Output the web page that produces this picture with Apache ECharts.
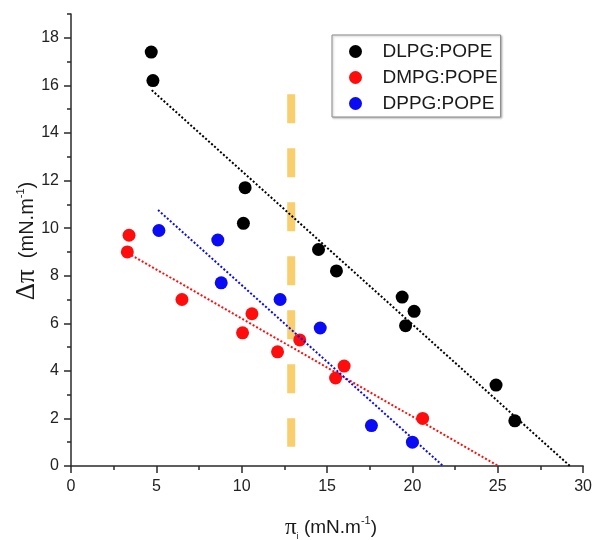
<!DOCTYPE html>
<html>
<head>
<meta charset="utf-8">
<title>Δπ vs πi</title>
<script src="https://cdn.jsdelivr.net/npm/echarts@6/dist/echarts.min.js"></script>
<style>
  html, body { margin: 0; padding: 0; background: #fff; }
  #chart { width: 595px; height: 540px; }
</style>
</head>
<body>
<div id="chart"></div>
<script>
// Measured points (initial surface pressure vs. pressure change)
const dlpgX = [4.7, 4.8, 10.2, 10.1, 14.5, 15.55, 19.4, 20.1, 19.6, 24.9, 26.0];
const dlpgY = [17.4, 16.2, 11.7, 10.2, 9.1, 8.2, 7.1, 6.5, 5.9, 3.4, 1.9];

const dmpgX = [3.4, 3.3, 6.5, 10.05, 10.6, 12.1, 13.4, 16.0, 15.5, 20.6];
const dmpgY = [9.7, 9.0, 7.0, 5.6, 6.4, 4.8, 5.3, 4.2, 3.7, 2.0];

const dppgX = [5.15, 8.6, 8.8, 12.25, 14.6, 17.6, 20.0];
const dppgY = [9.9, 9.5, 7.7, 7.0, 5.8, 1.7, 1.0];

// Linear fit end points for each mixture
const dlpgFitX = [4.73, 29.23];
const dlpgFitY = [15.8, 0];
const dmpgFitX = [3.33, 25.04];
const dmpgFitY = [8.95, 0];
const dppgFitX = [5.1, 21.8];
const dppgFitY = [10.76, 0];

// Vertical reference marker
const refX = [12.9, 12.9];
const refY = [15.63, 0.81];

// Axis ticks
const xMajorTicks = [0, 5, 10, 15, 20, 25, 30];
const xMinorTicks = [2.5, 7.5, 12.5, 17.5, 22.5, 27.5];
const yMajorTicks = [0, 2, 4, 6, 8, 10, 12, 14, 16, 18];
const yMinorTicks = [1, 3, 5, 7, 9, 11, 13, 15, 17, 19];

const seriesNames = ['DLPG:POPE', 'DMPG:POPE', 'DPPG:POPE'];
const seriesColors = ['#000000', '#ff0d0d', '#0a0af5'];

const zip = (xs, ys) => xs.map((x, i) => [x, ys[i]]);

const axisColor = '#2a2a2a';
const labelFont = 'Liberation Sans, Arial, sans-serif';
const greekFont = 'Liberation Serif, Times New Roman, serif';

const chart = echarts.init(document.getElementById('chart'), null, { renderer: 'canvas' });

const scatter = (name, xs, ys, color) => ({
  name: name,
  type: 'scatter',
  xAxisIndex: 0,
  yAxisIndex: 0,
  data: zip(xs, ys),
  symbol: 'circle',
  symbolSize: 13,
  itemStyle: { color: color, opacity: 1 },
  z: 3,
  silent: true
});

const fit = (xs, ys, color) => ({
  type: 'line',
  xAxisIndex: 0,
  yAxisIndex: 0,
  data: zip(xs, ys),
  showSymbol: false,
  symbol: 'none',
  lineStyle: { color: color, width: 2, type: [2, 2] },
  z: 4,
  silent: true
});

const option = {
  animation: false,
  backgroundColor: '#ffffff',
  grid: { left: 71, right: 10, top: 14, bottom: 74, containLabel: false },
  legend: {
    data: seriesNames,
    orient: 'vertical',
    left: 332,
    top: 35,
    icon: 'circle',
    itemWidth: 44,
    itemHeight: 13,
    itemGap: 7,
    padding: [7, 3, 4, 17],
    borderColor: '#8a8a8a',
    borderWidth: 1,
    backgroundColor: '#ffffff',
    shadowColor: 'rgba(0,0,0,0.25)',
    shadowBlur: 2,
    shadowOffsetX: 1,
    shadowOffsetY: 1,
    selectedMode: false,
    textStyle: { fontFamily: labelFont, fontSize: 19, color: '#1a1a1a' }
  },
  xAxis: [
    {
      type: 'value', min: 0, max: 30, position: 'bottom',
      axisLine: { show: true, onZero: false, lineStyle: { color: axisColor, width: 1.5 } },
      axisTick: { show: true, length: 7, customValues: xMajorTicks, lineStyle: { color: axisColor, width: 1.5 } },
      axisLabel: { customValues: xMajorTicks, fontFamily: labelFont, fontSize: 16, color: '#222', margin: 13 },
      splitLine: { show: false }
    },
    {
      type: 'value', min: 0, max: 30, position: 'bottom',
      axisLine: { show: false, onZero: false },
      axisTick: { show: true, length: 4, customValues: xMinorTicks, lineStyle: { color: axisColor, width: 1.5 } },
      axisLabel: { show: false },
      splitLine: { show: false }
    }
  ],
  yAxis: [
    {
      type: 'value', min: 0, max: 19, position: 'left',
      axisLine: { show: true, onZero: false, lineStyle: { color: axisColor, width: 1.5 } },
      axisTick: { show: true, length: 7, customValues: yMajorTicks, lineStyle: { color: axisColor, width: 1.5 } },
      axisLabel: { customValues: yMajorTicks, fontFamily: labelFont, fontSize: 16, color: '#222', margin: 12 },
      splitLine: { show: false }
    },
    {
      type: 'value', min: 0, max: 19, position: 'left',
      axisLine: { show: false, onZero: false },
      axisTick: { show: true, length: 4, customValues: yMinorTicks, lineStyle: { color: axisColor, width: 1.5 } },
      axisLabel: { show: false },
      splitLine: { show: false }
    }
  ],
  graphic: [
    {
      type: 'text',
      x: 331, y: 528,
      silent: true,
      style: {
        text: '{g|π}{sub|i}{t| (mN.m}{sup|-1}{t|)}',
        align: 'center',
        verticalAlign: 'middle',
        fill: '#1a1a1a',
        rich: {
          g: { fontFamily: greekFont, fontSize: 23, lineHeight: 26, fill: '#1a1a1a' },
          sub: { fontFamily: labelFont, fontSize: 9, lineHeight: 26, verticalAlign: 'bottom', fill: '#1a1a1a' },
          t: { fontFamily: labelFont, fontSize: 19, lineHeight: 26, fill: '#1a1a1a' },
          sup: { fontFamily: labelFont, fontSize: 11, lineHeight: 26, verticalAlign: 'top', fill: '#1a1a1a' }
        }
      }
    },
    {
      type: 'text',
      x: 27, y: 241,
      rotation: Math.PI / 2,
      silent: true,
      style: {
        text: '{g|Δπ}{t|  (mN.m}{sup|-1}{t|)}',
        align: 'center',
        verticalAlign: 'middle',
        fill: '#1a1a1a',
        rich: {
          g: { fontFamily: greekFont, fontSize: 27, lineHeight: 28, fill: '#1a1a1a' },
          t: { fontFamily: labelFont, fontSize: 20, lineHeight: 28, fill: '#1a1a1a' },
          sup: { fontFamily: labelFont, fontSize: 11, lineHeight: 28, verticalAlign: 'top', padding: [2, 0, 0, 0], fill: '#1a1a1a' }
        }
      }
    }
  ],
  series: [
    {
      type: 'line',
      xAxisIndex: 0,
      yAxisIndex: 0,
      data: zip(refX, refY),
      showSymbol: false,
      symbol: 'none',
      lineStyle: { color: '#f8cf6c', width: 8, type: [29, 25], cap: 'butt' },
      z: 2,
      silent: true
    },
    scatter(seriesNames[0], dlpgX, dlpgY, seriesColors[0]),
    scatter(seriesNames[1], dmpgX, dmpgY, seriesColors[1]),
    scatter(seriesNames[2], dppgX, dppgY, seriesColors[2]),
    fit(dlpgFitX, dlpgFitY, seriesColors[0]),
    fit(dmpgFitX, dmpgFitY, seriesColors[1]),
    fit(dppgFitX, dppgFitY, seriesColors[2])
  ]
};

chart.setOption(option);
</script>
</body>
</html>
